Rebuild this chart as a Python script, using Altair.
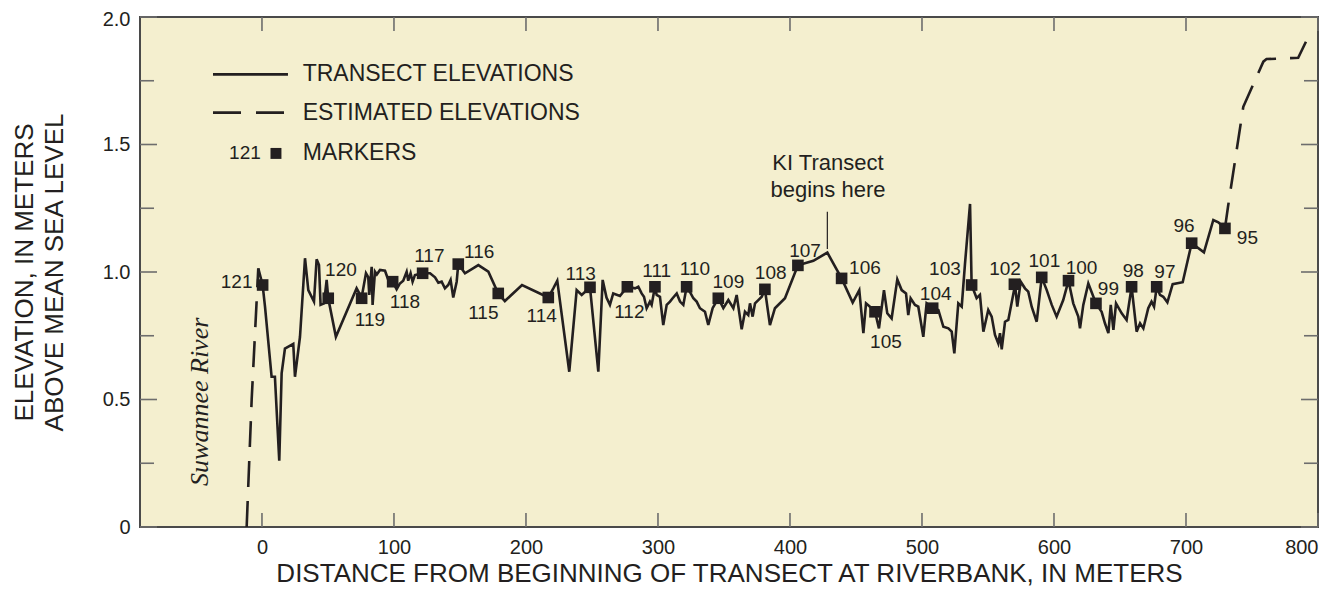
import altair as alt
import pandas as pd

# ---------------- data ----------------
solid_x = [-2.8, 0.5, 2.3, 7.3, 9.8, 13.1, 14.9, 17.4, 23.7, 25.0, 28.8, 32.6, 35.1, 39.4, 41.4, 43.2,
           44.4, 47.0, 49.0, 50.2, 56.0, 71.7, 75.5, 78.8, 80.5, 81.3, 83.1, 83.8, 85.6, 87.0, 89.4,
           93.2, 95.7, 99.0, 102.0, 104.5, 107.0, 109.6, 110.8, 112.6, 114.1, 115.9, 121.7, 127.3,
           131.1, 133.6, 136.1, 138.6, 141.1, 142.9, 144.9, 147.5, 148.7, 153.8, 163.9, 171.5, 179.0,
           184.0, 197.0, 216.9, 220.7, 223.7, 232.8, 238.4, 242.2, 248.5, 254.8, 258.1, 261.0, 263.6,
           266.1, 271.2, 276.8, 282.6, 285.1, 287.6, 289.4, 291.4, 293.9, 295.2, 297.7, 299.0, 301.5,
           304.0, 306.6, 309.1, 311.1, 314.2, 316.7, 319.2, 321.7, 324.8, 326.8, 329.3, 331.8, 335.6,
           338.1, 341.4, 345.7, 349.5, 353.3, 357.1, 359.6, 363.4, 365.9, 368.4, 369.7, 371.7, 373.5,
           376.0, 378.6, 381.0, 384.8, 388.6, 396.2, 406.0, 417.7, 428.3, 439.1, 447.5, 452.5, 455.6,
           457.6, 460.6, 464.4, 467.4, 471.2, 473.7, 477.0, 481.3, 484.6, 487.9, 489.6, 491.4, 494.7,
           497.2, 501.0, 503.5, 508.1, 512.4, 516.2, 520.0, 522.5, 524.5, 527.5, 530.1, 532.6, 536.4,
           537.6, 541.4, 543.9, 546.5, 550.2, 552.8, 555.3, 557.8, 559.1, 560.4, 562.9, 565.4, 570.5,
           572.2, 574.8, 578.0, 580.5, 583.1, 586.9, 590.7, 594.5, 598.3, 602.0, 607.0, 611.0, 614.6,
           618.4, 619.7, 622.2, 626.0, 631.8, 636.1, 638.6, 641.2, 643.0, 645.0, 647.0, 651.3, 655.0,
           658.8, 662.6, 665.2, 667.7, 671.4, 673.9, 675.8, 677.8, 680.3, 682.8, 685.9, 689.9, 697.5,
           704.3, 713.6, 720.7, 724.5, 729.5]
solid_y = [1.014, 0.949, 0.864, 0.589, 0.589, 0.26, 0.603, 0.70, 0.718, 0.589, 0.746, 1.054, 0.929, 0.884, 1.05, 1.027,
           0.871, 0.877, 0.969, 0.897, 0.746, 0.936, 0.90, 0.995, 0.98, 0.91, 1.02, 0.871, 1.001, 0.99, 1.008,
           1.005, 0.969, 0.962, 0.932, 0.955, 0.966, 1.001, 0.966, 0.995, 0.962, 0.988, 0.995, 0.995,
           0.979, 0.958, 0.962, 0.936, 0.949, 0.969, 0.90, 0.962, 1.031, 0.995, 1.027, 1.001, 0.916,
           0.886, 0.949, 0.90, 0.936, 0.966, 0.609, 0.929, 0.91, 0.94, 0.609, 0.969, 0.90, 0.871,
           0.916, 0.906, 0.942, 0.936, 0.942, 0.916, 0.903, 0.858, 0.884, 0.871, 0.942, 0.91, 0.903,
           0.792, 0.871, 0.884, 0.897, 0.916, 0.884, 0.871, 0.942, 0.916, 0.897, 0.884, 0.858, 0.844,
           0.792, 0.858, 0.897, 0.858, 0.89, 0.858, 0.91, 0.775, 0.844, 0.831, 0.877, 0.825, 0.877,
           0.89, 0.903, 0.932, 0.792, 0.858, 0.897, 1.026, 1.044, 1.076, 0.975, 0.88, 0.929, 0.76,
           0.877, 0.864, 0.844, 0.779, 0.929, 0.838, 0.818, 0.971, 0.929, 0.916, 0.831, 0.897, 0.871,
           0.864, 0.746, 0.877, 0.858, 0.851, 0.785, 0.779, 0.766, 0.681, 0.877, 0.864, 1.034, 1.267,
           0.949, 0.897, 0.91, 0.766, 0.851, 0.825, 0.753, 0.72, 0.76, 0.697, 0.805, 0.812, 0.949,
           0.864, 0.962, 0.936, 0.923, 0.864, 0.805, 0.979, 0.929, 0.871, 0.825, 0.89, 0.966, 0.877,
           0.825, 0.779, 0.871, 0.955, 0.877, 0.844, 0.799, 0.76, 0.871, 0.773, 0.877, 0.838, 0.812,
           0.942, 0.766, 0.799, 0.779, 0.858, 0.884, 0.864, 0.942, 0.91, 0.903, 0.881, 0.952, 0.96,
           1.113, 1.077, 1.204, 1.195, 1.171]

est_left_x = [-11.6, -7.8, -2.8]
est_left_y = [0.0, 0.5, 1.014]
est_right_x = [729.5, 731.8, 743.4, 758.6, 761.0, 785.0, 794.5]
est_right_y = [1.171, 1.255, 1.648, 1.825, 1.835, 1.84, 1.942]

marker_ids = ["121", "120", "119", "118", "117", "116", "115", "114", "113", "112", "111", "110", "109",
              "108", "107", "106", "105", "104", "103", "102", "101", "100", "99", "98", "97", "96", "95"]
marker_x = [0.5, 50.2, 75.5, 99.0, 121.7, 148.7, 179.0, 216.9, 248.5, 276.8, 297.7, 321.7, 345.7,
            381.0, 406.0, 439.1, 464.4, 508.1, 537.6, 570.0, 590.7, 611.0, 631.8, 658.8, 677.8, 704.3, 729.5]
marker_y = [0.949, 0.897, 0.897, 0.962, 0.995, 1.031, 0.916, 0.90, 0.94, 0.942, 0.942, 0.942, 0.897,
            0.932, 1.026, 0.975, 0.844, 0.858, 0.949, 0.952, 0.979, 0.966, 0.877, 0.942, 0.942, 1.113, 1.171]
label_x = [-19.2, 59.8, 81.8, 108.3, 126.8, 164.6, 167.7, 211.9, 241.4, 278.3, 299.0, 328.0, 353.3,
           385.4, 411.4, 456.8, 472.7, 510.4, 517.4, 562.9, 592.7, 620.9, 641.2, 660.0, 684.0, 698.5, 746.5]
label_y = [0.962, 1.008, 0.812, 0.884, 1.063, 1.08, 0.841, 0.827, 0.992, 0.844, 1.005, 1.01, 0.962,
           0.995, 1.084, 1.014, 0.727, 0.914, 1.01, 1.01, 1.043, 1.014, 0.932, 1.005, 1.001, 1.18, 1.132]

x_ticks = [0, 100, 200, 300, 400, 500, 600, 700, 800]
y_major = [0, 0.5, 1.0, 1.5, 2.0]
y_minor = [0.25, 0.75, 1.25, 1.75]

legend_labels = ["TRANSECT ELEVATIONS", "ESTIMATED ELEVATIONS", "MARKERS"]
note_lines = ["KI Transect", "begins here"]
river_name = "Suwannee River"

# ---------------- chart ----------------
W, H = 1178, 510
INK = "#231f20"
SANS = "Liberation Sans"
xscale = alt.Scale(domain=[-92.4, 800], nice=False, zero=False)
yscale = alt.Scale(domain=[0, 2], nice=False, zero=False)

x_axis = alt.Axis(values=x_ticks, ticks=False, domain=False, grid=False, labelFontSize=20,
                  labelFont=SANS, labelColor=INK, labelPadding=10,
                  title="DISTANCE FROM BEGINNING OF TRANSECT AT RIVERBANK, IN METERS",
                  titleFont=SANS, titleFontSize=26, titleFontWeight="normal", titleColor=INK,
                  titlePadding=3)
y_axis = alt.Axis(values=y_major, ticks=False, domain=False, grid=False, labelFontSize=20,
                  labelFont=SANS, labelColor=INK, labelPadding=10,
                  labelOffset={"condition": {"test": "datum.value == 2", "value": 2}, "value": 0},
                  labelExpr="datum.value == 0 ? '0' : format(datum.value, '.1f')",
                  title=["ELEVATION, IN METERS", "ABOVE MEAN SEA LEVEL"],
                  titleFont=SANS, titleFontSize=26, titleFontWeight="normal", titleColor=INK,
                  titlePadding=35, titleLineHeight=30)


def X(field="x"):
    return alt.X(f"{field}:Q", scale=xscale, axis=x_axis)


def Y(field="y"):
    return alt.Y(f"{field}:Q", scale=yscale, axis=y_axis)


solid_df = pd.DataFrame({"x": solid_x, "y": solid_y})
estL_df = pd.DataFrame({"x": est_left_x, "y": est_left_y})
estR_df = pd.DataFrame({"x": est_right_x, "y": est_right_y})
mk_df = pd.DataFrame({"x": marker_x, "y": marker_y, "id": marker_ids})
lab_df = pd.DataFrame({"x": label_x, "y": label_y, "id": marker_ids})
xt_df = pd.DataFrame({"x": x_ticks})
ymaj_df = pd.DataFrame({"y": y_major})
ymin_df = pd.DataFrame({"y": y_minor})

solid = alt.Chart(solid_df).mark_line(color=INK, strokeWidth=2.6).encode(
    x=X(), y=Y(), order="x:Q")
estL = alt.Chart(estL_df).mark_line(color=INK, strokeWidth=2.6, strokeDash=[26, 14]).encode(
    x=X(), y=Y())
estR = alt.Chart(estR_df).mark_line(color=INK, strokeWidth=2.6, strokeDash=[26, 14]).encode(
    x=X(), y=Y())
markers = alt.Chart(mk_df).mark_square(color=INK, size=135, opacity=1).encode(x=X(), y=Y())
labels = alt.Chart(lab_df).mark_text(font=SANS, fontSize=19, color=INK, align="center",
                                     baseline="middle").encode(x=X(), y=Y(), text="id:N")

tick_style = dict(color="#6d6d6d", strokeWidth=1.6)
t_bottom = alt.Chart(xt_df).mark_rule(**tick_style).encode(
    x=X(), y=alt.value(H), y2=alt.value(H - 14))
t_top = alt.Chart(xt_df).mark_rule(**tick_style).encode(
    x=X(), y=alt.value(0), y2=alt.value(14))
t_left_maj = alt.Chart(ymaj_df).mark_rule(**tick_style).encode(
    y=Y(), x=alt.value(0), x2=alt.value(17))
t_left_min = alt.Chart(ymin_df).mark_rule(**tick_style).encode(
    y=Y(), x=alt.value(0), x2=alt.value(14))
t_right_maj = alt.Chart(ymaj_df).mark_rule(**tick_style).encode(
    y=Y(), x=alt.value(W), x2=alt.value(W - 17))
t_right_min = alt.Chart(ymin_df).mark_rule(**tick_style).encode(
    y=Y(), x=alt.value(W), x2=alt.value(W - 14))

# legend (annotation placed in data units)
leg_line_df = pd.DataFrame({"x": [-37.1, 19.7], "y": [1.775, 1.775]})
leg_dash_df = pd.DataFrame({"x": [-37.1, 19.7], "y": [1.625, 1.625]})
leg_mk_df = pd.DataFrame({"x": [10.6], "y": [1.465]})
leg_num_df = pd.DataFrame({"x": [-12.9], "y": [1.465], "t": [marker_ids[0]]})
leg_txt_df = pd.DataFrame({"x": [30.8] * 3, "y": [1.775, 1.625, 1.465], "t": legend_labels})

leg_line = alt.Chart(leg_line_df).mark_line(color=INK, strokeWidth=2.6).encode(x=X(), y=Y())
leg_dash = alt.Chart(leg_dash_df).mark_line(color=INK, strokeWidth=2.6, strokeDash=[28, 15]).encode(
    x=X(), y=Y())
leg_mk = alt.Chart(leg_mk_df).mark_square(color=INK, size=120, opacity=1).encode(x=X(), y=Y())
leg_num = alt.Chart(leg_num_df).mark_text(font=SANS, fontSize=19, color=INK, align="center",
                                          baseline="middle").encode(x=X(), y=Y(), text="t:N")
leg_txt = alt.Chart(leg_txt_df).mark_text(font=SANS, fontSize=23, color=INK, align="left",
                                          baseline="middle").encode(x=X(), y=Y(), text="t:N")

# KI transect note
note_df = pd.DataFrame({"x": [428.8, 428.8], "y": [1.427, 1.322], "t": note_lines})
note = alt.Chart(note_df).mark_text(font=SANS, fontSize=22, color=INK, align="center",
                                    baseline="middle").encode(x=X(), y=Y(), text="t:N")
lead_df = pd.DataFrame({"x": [428.3], "y": [1.09], "y2": [1.236]})
lead = alt.Chart(lead_df).mark_rule(color=INK, strokeWidth=1.2).encode(
    x=X(), y=Y(), y2="y2:Q")

river_df = pd.DataFrame({"x": [-47.0], "y": [0.491], "t": [river_name]})
river = alt.Chart(river_df).mark_text(font="Liberation Serif", fontStyle="italic", fontSize=26,
                                      color=INK, angle=270, align="center",
                                      baseline="middle").encode(x=X(), y=Y(), text="t:N")

chart = alt.layer(
    solid, estL, estR, markers, labels,
    t_bottom, t_top, t_left_maj, t_left_min, t_right_maj, t_right_min,
    leg_line, leg_dash, leg_mk, leg_num, leg_txt, note, lead, river
).properties(
    width=W, height=H,
    background="white",
    autosize=alt.AutoSizeParams(type="none"),
    padding={"left": 132, "top": 9, "right": 12, "bottom": 60},
).configure_view(
    fill="#f4efcf", stroke="#4a4a4a", strokeWidth=2
)

chart.save("out.html", embed_options={"renderer": "svg", "actions": False})
